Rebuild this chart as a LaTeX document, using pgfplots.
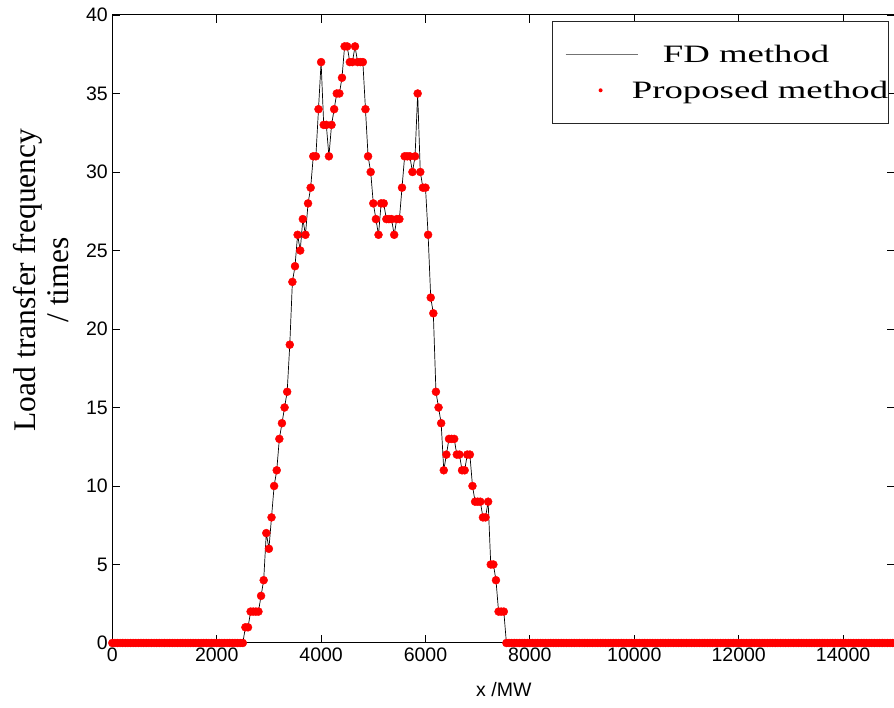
\documentclass[border=0pt]{standalone}
\usepackage{fontspec}
\setmainfont{Liberation Serif}
\newfontfamily\arialf{Liberation Sans}
\usepackage{graphicx}
\usepackage{pgfplots}
\usepackage{pgfplotstable}
\pgfplotsset{compat=1.18}

\pgfplotstableread[row sep=\\]{
x y\\
0 0\\50 0\\100 0\\150 0\\200 0\\250 0\\300 0\\350 0\\400 0\\450 0\\
500 0\\550 0\\600 0\\650 0\\700 0\\750 0\\800 0\\850 0\\900 0\\950 0\\
1000 0\\1050 0\\1100 0\\1150 0\\1200 0\\1250 0\\1300 0\\1350 0\\1400 0\\1450 0\\
1500 0\\1550 0\\1600 0\\1650 0\\1700 0\\1750 0\\1800 0\\1850 0\\1900 0\\1950 0\\
2000 0\\2050 0\\2100 0\\2150 0\\2200 0\\2250 0\\2300 0\\2350 0\\2400 0\\2450 0\\
2500 0\\2550 1\\2600 1\\2650 2\\2700 2\\2750 2\\2800 2\\2850 3\\2900 4\\2950 7\\
3000 6\\3050 8\\3100 10\\3150 11\\3200 13\\3250 14\\3300 15\\3350 16\\3400 19\\3450 23\\
3500 24\\3550 26\\3600 25\\3650 27\\3700 26\\3750 28\\3800 29\\3850 31\\3900 31\\3950 34\\
4000 37\\4050 33\\4100 33\\4150 31\\4200 33\\4250 34\\4300 35\\4350 35\\4400 36\\4450 38\\
4500 38\\4550 37\\4600 37\\4650 38\\4700 37\\4750 37\\4800 37\\4850 34\\4900 31\\4950 30\\
5000 28\\5050 27\\5100 26\\5150 28\\5200 28\\5250 27\\5300 27\\5350 27\\5400 26\\5450 27\\
5500 27\\5550 29\\5600 31\\5650 31\\5700 31\\5750 30\\5800 31\\5850 35\\5900 30\\5950 29\\
6000 29\\6050 26\\6100 22\\6150 21\\6200 16\\6250 15\\6300 14\\6350 11\\6400 12\\6450 13\\
6500 13\\6550 13\\6600 12\\6650 12\\6700 11\\6750 11\\6800 12\\6850 12\\6900 10\\6950 9\\
7000 9\\7050 9\\7100 8\\7150 8\\7200 9\\7250 5\\7300 5\\7350 4\\7400 2\\7450 2\\
7500 2\\7550 0\\7600 0\\7650 0\\7700 0\\7750 0\\7800 0\\7850 0\\7900 0\\7950 0\\
8000 0\\8050 0\\8100 0\\8150 0\\8200 0\\8250 0\\8300 0\\8350 0\\8400 0\\8450 0\\
8500 0\\8550 0\\8600 0\\8650 0\\8700 0\\8750 0\\8800 0\\8850 0\\8900 0\\8950 0\\
9000 0\\9050 0\\9100 0\\9150 0\\9200 0\\9250 0\\9300 0\\9350 0\\9400 0\\9450 0\\
9500 0\\9550 0\\9600 0\\9650 0\\9700 0\\9750 0\\9800 0\\9850 0\\9900 0\\9950 0\\
10000 0\\10050 0\\10100 0\\10150 0\\10200 0\\10250 0\\10300 0\\10350 0\\10400 0\\10450 0\\
10500 0\\10550 0\\10600 0\\10650 0\\10700 0\\10750 0\\10800 0\\10850 0\\10900 0\\10950 0\\
11000 0\\11050 0\\11100 0\\11150 0\\11200 0\\11250 0\\11300 0\\11350 0\\11400 0\\11450 0\\
11500 0\\11550 0\\11600 0\\11650 0\\11700 0\\11750 0\\11800 0\\11850 0\\11900 0\\11950 0\\
12000 0\\12050 0\\12100 0\\12150 0\\12200 0\\12250 0\\12300 0\\12350 0\\12400 0\\12450 0\\
12500 0\\12550 0\\12600 0\\12650 0\\12700 0\\12750 0\\12800 0\\12850 0\\12900 0\\12950 0\\
13000 0\\13050 0\\13100 0\\13150 0\\13200 0\\13250 0\\13300 0\\13350 0\\13400 0\\13450 0\\
13500 0\\13550 0\\13600 0\\13650 0\\13700 0\\13750 0\\13800 0\\13850 0\\13900 0\\13950 0\\
14000 0\\14050 0\\14100 0\\14150 0\\14200 0\\14250 0\\14300 0\\14350 0\\14400 0\\14450 0\\
14500 0\\14550 0\\14600 0\\14650 0\\14700 0\\14750 0\\14800 0\\14850 0\\14900 0\\14950 0\\
15000 0\\
}\loaddata

\begin{document}
\begin{tikzpicture}[x=1pt,y=1pt]
\path[use as bounding box] (0,0) rectangle (894,708);
\begin{axis}[
  at={(112.3pt,65pt)}, anchor=south west,
  scale only axis, width=783pt, height=628pt,
  xmin=0, xmax=15000, ymin=0, ymax=40,
  xtick distance=2000, ytick distance=5,
  scaled x ticks=false,
  /pgf/number format/assume math mode=true,
  /pgf/number format/set thousands separator={},
  tick align=inside, major tick length=8pt,
  tick style={black, line width=0.9pt},
  axis line style={black, line width=1pt},
  ticklabel style={font=\arialf\fontsize{19.5}{20}\selectfont},
  xticklabel style={yshift=-1pt},
  yticklabel style={xshift=-1pt},
  xlabel={x /MW},
  every axis x label/.style={at={(axis description cs:0.5,-0.0748)}, anchor=center,
    font=\arialf\fontsize{19.5}{20}\selectfont},
  ylabel={Load transfer frequency\\/ times},
  every axis y label/.style={at={(axis description cs:-0.0911,0.578)}, anchor=center, rotate=90,
    font=\fontsize{31.5}{33}\selectfont, align=center},
  clip=false,
  legend style={at={(axis description cs:0.5618,0.991)}, anchor=north west,
    draw=black!85, line width=0.8pt, fill=white,
    inner xsep=0pt, inner ysep=25pt, row sep=19.5pt, column sep=0pt,
    nodes={inner sep=0pt, text height=16.5pt, text depth=0pt, font=\fontsize{25}{25}\selectfont}},
  legend cell align=left,
]
\addlegendimage{legend image code/.code={\path[draw=none,fill=none] (-13pt,0pt) -- (72pt,0pt); \draw[black!55, line width=0.7pt] (0pt,0pt) -- (72pt,0pt);}}
\addlegendentry{\hspace{25pt}\scalebox{1.47}[1]{FD method}}
\addlegendimage{legend image code/.code={\path[draw=none,fill=none] (-13pt,0pt) -- (72pt,0pt); \fill[red,draw=none] (35pt,0pt) circle (2pt);}}
\addlegendentry{\hspace{-6pt}\scalebox{1.47}[1]{Proposed method}\hspace{3.7pt}}
\addplot[forget plot, only marks, mark=*, mark size=4pt, color=red, mark options={fill=red, draw=red}] table {\loaddata};
\addplot[forget plot, black, line width=0.7pt, mark=none] table {\loaddata};
\end{axis}
\end{tikzpicture}
\end{document}
